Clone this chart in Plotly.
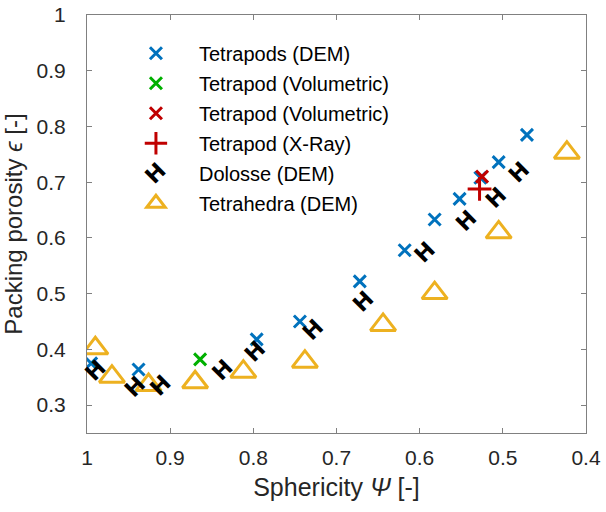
import plotly.graph_objects as go

# Data
tp_dem_x = [0.995, 0.938, 0.796, 0.744, 0.672, 0.618, 0.582, 0.552, 0.527, 0.505, 0.471]
tp_dem_y = [0.375, 0.364, 0.418, 0.450, 0.522, 0.578, 0.633, 0.670, 0.708, 0.736, 0.785]

tp_vol1_x = [0.864]
tp_vol1_y = [0.382]

tp_vol2_x = [0.525]
tp_vol2_y = [0.710]

tp_xray_x = [0.528]
tp_xray_y = [0.688]

dol_x = [0.990, 0.942, 0.912, 0.838, 0.798, 0.728, 0.668, 0.594, 0.544, 0.508, 0.481]
dol_y = [0.363, 0.333, 0.336, 0.363, 0.396, 0.435, 0.486, 0.573, 0.631, 0.672, 0.717]

tet_x = [0.990, 0.970, 0.926, 0.870, 0.812, 0.738, 0.644, 0.582, 0.505, 0.423]
tet_y = [0.402, 0.351, 0.336, 0.341, 0.360, 0.378, 0.444, 0.501, 0.610, 0.753]

x_ticks = [1, 0.9, 0.8, 0.7, 0.6, 0.5, 0.4]
x_ticklabels = ["1", "0.9", "0.8", "0.7", "0.6", "0.5", "0.4"]
y_ticks = [0.3, 0.4, 0.5, 0.6, 0.7, 0.8, 0.9, 1]
y_ticklabels = ["0.3", "0.4", "0.5", "0.6", "0.7", "0.8", "0.9", "1"]

BLUE = "#0072BD"
GREEN = "#00B000"
RED = "#C00000"
ORANGE = "#EDB120"
FONT = "Liberation Sans, Arial, sans-serif"
HFONT = "DejaVu Sans, sans-serif"

fig = go.Figure()

fig.add_trace(go.Scatter(x=tp_dem_x, y=tp_dem_y, mode="markers", name="Tetrapods (DEM)", legendgroup="a",
                         marker=dict(symbol="x-thin-open", size=12, line=dict(color=BLUE, width=3), color=BLUE)))
fig.add_trace(go.Scatter(x=tp_vol1_x, y=tp_vol1_y, mode="markers", name="Tetrapod (Volumetric)", legendgroup="b",
                         marker=dict(symbol="x-thin-open", size=12, line=dict(color=GREEN, width=3), color=GREEN)))
fig.add_trace(go.Scatter(x=tp_vol2_x, y=tp_vol2_y, mode="markers", name="Tetrapod (Volumetric)", legendgroup="c",
                         marker=dict(symbol="x-thin-open", size=12, line=dict(color=RED, width=3), color=RED)))
fig.add_trace(go.Scatter(x=tp_xray_x, y=tp_xray_y, mode="markers", name="Tetrapod (X-Ray)", legendgroup="d",
                         marker=dict(symbol="cross-thin-open", size=17, line=dict(color=RED, width=3), color=RED)))
fig.add_trace(go.Scatter(x=dol_x, y=dol_y, mode="markers", name="Dolosse (DEM)", legendgroup="e",
                         marker=dict(symbol="circle", size=14, color="rgba(0,0,0,0)", line=dict(width=0))))
fig.add_trace(go.Scatter(x=tet_x, y=tet_y, mode="markers", name="Tetrahedra (DEM)", legendgroup="f",
                         marker=dict(symbol="triangle-up-open", size=22, line=dict(color=ORANGE, width=3), color=ORANGE)))

for xv, yv in zip(dol_x, dol_y):
    fig.add_annotation(x=xv, y=yv, xref="x", yref="y", text="<b>H</b>", showarrow=False,
                       textangle=-45, font=dict(family=HFONT, size=22, color="black"))

# Dolosse legend icon
fig.add_annotation(x=0.136, y=0.622, xref="paper", yref="paper", text="<b>H</b>", showarrow=False,
                   xanchor="center", yanchor="middle",
                   textangle=-45, font=dict(family=HFONT, size=22, color="black"))

fig.update_layout(
    width=606, height=512,
    margin=dict(l=87, r=20, t=15, b=79, autoexpand=False),
    paper_bgcolor="white", plot_bgcolor="white",
    font=dict(family=FONT, size=20, color="#262626"),
    showlegend=True,
    legend=dict(x=0.052, y=0.955, xanchor="left", yanchor="top", bgcolor="rgba(0,0,0,0)",
                borderwidth=0, font=dict(size=20, color="black"), itemwidth=76,
                tracegroupgap=1),
)

fig.update_xaxes(range=[1, 0.4], tickvals=x_ticks, ticktext=x_ticklabels, automargin=False,
                 showgrid=False, zeroline=False, showline=True, linecolor="#808080", linewidth=1,
                 mirror="ticks", ticks="inside", ticklen=5, tickcolor="#808080",
                 tickfont=dict(size=21, color="#262626"), ticklabelstandoff=6,
                 title=dict(text="Sphericity <i>Ψ</i> [-]", font=dict(size=25, color="#262626"), standoff=10))
fig.update_yaxes(range=[0.25, 1], tickvals=y_ticks, ticktext=y_ticklabels, automargin=False,
                 showgrid=False, zeroline=False, showline=True, linecolor="#808080", linewidth=1,
                 mirror="ticks", ticks="inside", ticklen=5, tickcolor="#808080",
                 tickfont=dict(size=21, color="#262626"), ticklabelstandoff=16,
                 title=dict(text="Packing porosity <i>ϵ</i> [-]", font=dict(size=24, color="#262626"), standoff=10))

fig.write_html("out.html")
